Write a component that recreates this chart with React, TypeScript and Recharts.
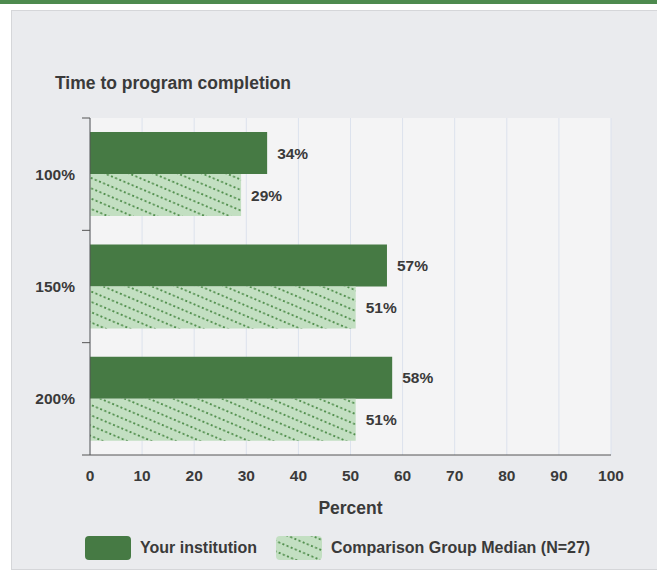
import React from "react";
import {
  BarChart,
  Bar,
  XAxis,
  YAxis,
  CartesianGrid,
  LabelList,
  Legend,
} from "recharts";

// categories and values
const categories = ["100%", "150%", "200%"];
const yourInstitution = [34, 57, 58];
const comparisonMedian = [29, 51, 51];
const xTicks = [0, 10, 20, 30, 40, 50, 60, 70, 80, 90, 100];

const seriesNames = ["Your institution", "Comparison Group Median (N=27)"];

const data = categories.map((c, i) => ({
  category: c,
  yours: yourInstitution[i],
  comparison: comparisonMedian[i],
}));

const W = 657;
const H = 572;
const MARGIN = { top: 118, right: 46, bottom: 52, left: 20 };
const Y_AXIS_W = 70;
const X_AXIS_H = 65;
const PLOT_H = H - MARGIN.top - MARGIN.bottom - X_AXIS_H;
const BAND = PLOT_H / categories.length;

const DARK = "#467a44";
const LIGHT = "#c3dfc2";
const DOTS = "#53904f";
const TEXT = "#3a3a3a";
const FONT = '"Liberation Sans", Arial, sans-serif';

const HatchPattern = ({ id }: { id: string }) => (
  <pattern
    id={id}
    patternUnits="userSpaceOnUse"
    width={9}
    height={9.5}
    patternTransform="rotate(23)"
  >
    <rect width={9} height={9.5} fill={LIGHT} />
    <line
      x1={0}
      y1={4.75}
      x2={9}
      y2={4.75}
      stroke={DOTS}
      strokeWidth={1.9}
      strokeDasharray="2 2.5"
    />
  </pattern>
);

const YTick = (props: any) => {
  const { x, y, payload, index } = props;
  const half = BAND / 2;
  return (
    <g>
      <line x1={x + 7} x2={x + 15} y1={y - half} y2={y - half} stroke="#555" />
      {index === categories.length - 1 && (
        <line x1={x + 7} x2={x + 15} y1={y + half} y2={y + half} stroke="#555" />
      )}
      <text
        x={x}
        y={y}
        dy="0.36em"
        textAnchor="end"
        fill={TEXT}
        fontSize={15.5}
        fontWeight="bold"
        fontFamily={FONT}
      >
        {payload.value}
      </text>
    </g>
  );
};

const LegendContent = () => (
  <div
    style={{
      display: "flex",
      alignItems: "center",
      fontFamily: FONT,
      fontSize: 16,
      fontWeight: "bold",
      color: TEXT,
      whiteSpace: "nowrap",
    }}
  >
    <svg width={46} height={24} style={{ marginRight: 9 }}>
      <rect width={46} height={24} rx={4} fill={DARK} />
    </svg>
    <span>{seriesNames[0]}</span>
    <svg width={46} height={24} style={{ marginLeft: 19, marginRight: 9 }}>
      <defs>
        <HatchPattern id="hatchLegend" />
      </defs>
      <rect width={46} height={24} rx={4} fill="url(#hatchLegend)" />
    </svg>
    <span>{seriesNames[1]}</span>
  </div>
);

export default function App() {
  return (
    <div
      style={{
        position: "absolute",
        left: 0,
        top: 0,
        width: W,
        height: H,
        background: "#fff",
        overflow: "hidden",
      }}
    >
      <div
        style={{
          position: "absolute",
          left: 0,
          top: 0,
          width: W,
          height: 4,
          background: "#4d8a4e",
        }}
      />
      <div
        style={{
          position: "absolute",
          left: 11,
          top: 10,
          width: W,
          height: 558,
          background: "#eaebee",
          border: "1px solid #d5d6d9",
        }}
      />
      <div
        style={{
          position: "absolute",
          left: 55,
          top: 73,
          fontFamily: FONT,
          fontSize: 17.5,
          lineHeight: "20px",
          fontWeight: "bold",
          color: TEXT,
        }}
      >
        Time to program completion
      </div>
      <div style={{ position: "absolute", left: 0, top: 0 }}>
        <BarChart
          width={W}
          height={H}
          data={data}
          layout="vertical"
          margin={MARGIN}
          barCategoryGap="12.5%"
          barGap={0}
        >
          <defs>
            <HatchPattern id="hatchBar" />
          </defs>
          <CartesianGrid
            horizontal={false}
            stroke="#dce2ed"
            fill="#f4f4f5"
            fillOpacity={1}
          />
          <XAxis
            type="number"
            domain={[0, 100]}
            ticks={xTicks}
            interval={0}
            height={X_AXIS_H}
            tickLine={false}
            tickSize={0}
            tickMargin={15}
            axisLine={{ stroke: "#555" }}
            tick={{
              fill: TEXT,
              fontSize: 15.5,
              fontWeight: "bold",
              fontFamily: FONT,
            }}
            label={{
              value: "Percent",
              position: "insideBottom",
              offset: 6,
              fill: TEXT,
              fontSize: 17.5,
              fontWeight: "bold",
              fontFamily: FONT,
            }}
          />
          <YAxis
            type="category"
            dataKey="category"
            width={Y_AXIS_W}
            tickLine={false}
            tickSize={0}
            tickMargin={15}
            axisLine={{ stroke: "#555" }}
            tick={<YTick />}
          />
          <Legend
            layout="vertical"
            align="center"
            verticalAlign="middle"
            content={<LegendContent />}
            wrapperStyle={{ left: 85, top: 536, width: 560, height: 24 }}
          />
          <Bar dataKey="yours" fill={DARK} isAnimationActive={false}>
            <LabelList
              dataKey="yours"
              position="right"
              offset={10}
              formatter={(v: any) => `${v}%`}
              fill={TEXT}
              fontSize={15.5}
              fontWeight="bold"
              fontFamily={FONT}
            />
          </Bar>
          <Bar dataKey="comparison" fill="url(#hatchBar)" isAnimationActive={false}>
            <LabelList
              dataKey="comparison"
              position="right"
              offset={10}
              formatter={(v: any) => `${v}%`}
              fill={TEXT}
              fontSize={15.5}
              fontWeight="bold"
              fontFamily={FONT}
            />
          </Bar>
        </BarChart>
      </div>
    </div>
  );
}
